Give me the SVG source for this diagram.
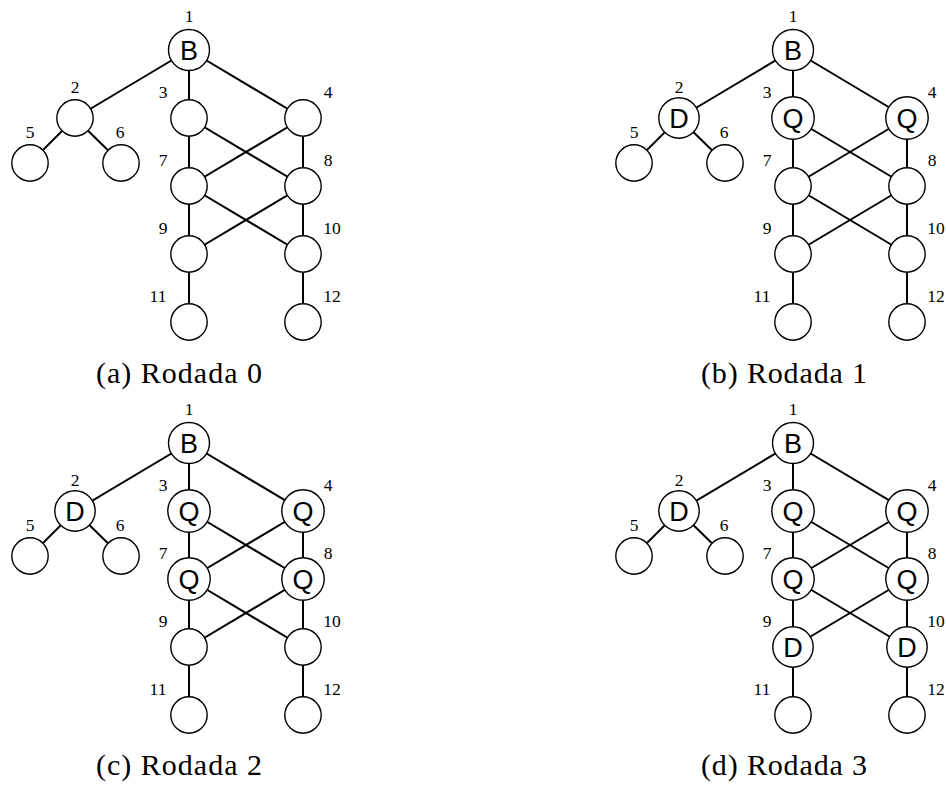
<svg xmlns="http://www.w3.org/2000/svg" width="946" height="785" viewBox="0 0 946 785">
<style>
.e line{stroke:#000;stroke-width:2;stroke-linecap:butt}
circle{fill:#fff;stroke:#000;stroke-width:1.4}
.l{font-family:"Liberation Serif","DejaVu Serif",serif;font-size:17.5px;fill:#000;text-anchor:middle}
.t{font-family:"Liberation Sans",Arial,sans-serif;font-size:27px;fill:#000;text-anchor:middle}
.c{font-family:"Liberation Serif","DejaVu Serif",serif;font-size:30px;fill:#000;text-anchor:middle}
</style>
<rect width="946" height="785" fill="#fff"/>

<!-- Panel a -->
<g id="panel-a">
<g class="e" id="edges-a">
<line x1="189" y1="50" x2="75" y2="118"/><line x1="189" y1="50" x2="189" y2="118"/><line x1="189" y1="50" x2="303" y2="118"/>
<line x1="75" y1="118" x2="30" y2="163"/><line x1="75" y1="118" x2="121" y2="163"/>
<line x1="189" y1="118" x2="189" y2="186"/><line x1="189" y1="118" x2="303" y2="186"/>
<line x1="303" y1="118" x2="189" y2="186"/><line x1="303" y1="118" x2="303" y2="186"/>
<line x1="189" y1="186" x2="189" y2="254"/><line x1="189" y1="186" x2="303" y2="254"/>
<line x1="303" y1="186" x2="189" y2="254"/><line x1="303" y1="186" x2="303" y2="254"/>
<line x1="189" y1="254" x2="189" y2="322"/><line x1="303" y1="254" x2="303" y2="322"/>
</g>
<g id="a-n1"><circle cx="189" cy="50" r="20.5"/><text class="t" x="189" y="59.8">B</text><text class="l" x="189" y="22">1</text></g>
<g id="a-n2"><circle cx="75" cy="118" r="18.2"/><text class="l" x="75" y="93">2</text></g>
<g id="a-n3"><circle cx="189" cy="118" r="18.2"/><text class="l" x="163" y="98">3</text></g>
<g id="a-n4"><circle cx="303" cy="118" r="18.2"/><text class="l" x="328" y="98">4</text></g>
<g id="a-n5"><circle cx="30" cy="163" r="18.2"/><text class="l" x="30" y="138">5</text></g>
<g id="a-n6"><circle cx="121" cy="163" r="18.2"/><text class="l" x="120" y="138">6</text></g>
<g id="a-n7"><circle cx="189" cy="186" r="18.2"/><text class="l" x="163" y="166">7</text></g>
<g id="a-n8"><circle cx="303" cy="186" r="18.2"/><text class="l" x="328" y="166">8</text></g>
<g id="a-n9"><circle cx="189" cy="254" r="18.2"/><text class="l" x="163" y="234">9</text></g>
<g id="a-n10"><circle cx="303" cy="254" r="18.2"/><text class="l" x="332" y="234">10</text></g>
<g id="a-n11"><circle cx="189" cy="322" r="18.2"/><text class="l" x="158" y="302">11</text></g>
<g id="a-n12"><circle cx="303" cy="322" r="18.2"/><text class="l" x="332" y="302">12</text></g>
<text class="c" x="179" y="383" textLength="166" lengthAdjust="spacing">(a) Rodada 0</text>
</g>

<!-- Panel b -->
<g id="panel-b" transform="translate(604,0)">
<g class="e" id="edges-b">
<line x1="189" y1="50" x2="75" y2="118"/><line x1="189" y1="50" x2="189" y2="118"/><line x1="189" y1="50" x2="303" y2="118"/>
<line x1="75" y1="118" x2="30" y2="163"/><line x1="75" y1="118" x2="121" y2="163"/>
<line x1="189" y1="118" x2="189" y2="186"/><line x1="189" y1="118" x2="303" y2="186"/>
<line x1="303" y1="118" x2="189" y2="186"/><line x1="303" y1="118" x2="303" y2="186"/>
<line x1="189" y1="186" x2="189" y2="254"/><line x1="189" y1="186" x2="303" y2="254"/>
<line x1="303" y1="186" x2="189" y2="254"/><line x1="303" y1="186" x2="303" y2="254"/>
<line x1="189" y1="254" x2="189" y2="322"/><line x1="303" y1="254" x2="303" y2="322"/>
</g>
<g id="b-n1"><circle cx="189" cy="50" r="20.5"/><text class="t" x="189" y="59.8">B</text><text class="l" x="189" y="22">1</text></g>
<g id="b-n2"><circle cx="75" cy="118" r="20.2"/><text class="t" x="75" y="127.8">D</text><text class="l" x="75" y="93">2</text></g>
<g id="b-n3"><circle cx="189" cy="118" r="21.2"/><text class="t" x="189" y="127.8">Q</text><text class="l" x="163" y="98">3</text></g>
<g id="b-n4"><circle cx="303" cy="118" r="21.2"/><text class="t" x="303" y="127.8">Q</text><text class="l" x="328" y="98">4</text></g>
<g id="b-n5"><circle cx="30" cy="163" r="18.2"/><text class="l" x="30" y="138">5</text></g>
<g id="b-n6"><circle cx="121" cy="163" r="18.2"/><text class="l" x="120" y="138">6</text></g>
<g id="b-n7"><circle cx="189" cy="186" r="18.2"/><text class="l" x="163" y="166">7</text></g>
<g id="b-n8"><circle cx="303" cy="186" r="18.2"/><text class="l" x="328" y="166">8</text></g>
<g id="b-n9"><circle cx="189" cy="254" r="18.2"/><text class="l" x="163" y="234">9</text></g>
<g id="b-n10"><circle cx="303" cy="254" r="18.2"/><text class="l" x="332" y="234">10</text></g>
<g id="b-n11"><circle cx="189" cy="322" r="18.2"/><text class="l" x="158" y="302">11</text></g>
<g id="b-n12"><circle cx="303" cy="322" r="18.2"/><text class="l" x="332" y="302">12</text></g>
<text class="c" x="180" y="383" textLength="166" lengthAdjust="spacing">(b) Rodada 1</text>
</g>

<!-- Panel c -->
<g id="panel-c" transform="translate(0,393)">
<g class="e" id="edges-c">
<line x1="189" y1="50" x2="75" y2="118"/><line x1="189" y1="50" x2="189" y2="118"/><line x1="189" y1="50" x2="303" y2="118"/>
<line x1="75" y1="118" x2="30" y2="163"/><line x1="75" y1="118" x2="121" y2="163"/>
<line x1="189" y1="118" x2="189" y2="186"/><line x1="189" y1="118" x2="303" y2="186"/>
<line x1="303" y1="118" x2="189" y2="186"/><line x1="303" y1="118" x2="303" y2="186"/>
<line x1="189" y1="186" x2="189" y2="254"/><line x1="189" y1="186" x2="303" y2="254"/>
<line x1="303" y1="186" x2="189" y2="254"/><line x1="303" y1="186" x2="303" y2="254"/>
<line x1="189" y1="254" x2="189" y2="322"/><line x1="303" y1="254" x2="303" y2="322"/>
</g>
<g id="c-n1"><circle cx="189" cy="50" r="20.5"/><text class="t" x="189" y="59.8">B</text><text class="l" x="189" y="22">1</text></g>
<g id="c-n2"><circle cx="75" cy="118" r="20.2"/><text class="t" x="75" y="127.8">D</text><text class="l" x="75" y="93">2</text></g>
<g id="c-n3"><circle cx="189" cy="118" r="21.2"/><text class="t" x="189" y="127.8">Q</text><text class="l" x="163" y="98">3</text></g>
<g id="c-n4"><circle cx="303" cy="118" r="21.2"/><text class="t" x="303" y="127.8">Q</text><text class="l" x="328" y="98">4</text></g>
<g id="c-n5"><circle cx="30" cy="163" r="18.2"/><text class="l" x="30" y="138">5</text></g>
<g id="c-n6"><circle cx="121" cy="163" r="18.2"/><text class="l" x="120" y="138">6</text></g>
<g id="c-n7"><circle cx="189" cy="186" r="21.2"/><text class="t" x="189" y="195.8">Q</text><text class="l" x="163" y="166">7</text></g>
<g id="c-n8"><circle cx="303" cy="186" r="21.2"/><text class="t" x="303" y="195.8">Q</text><text class="l" x="328" y="166">8</text></g>
<g id="c-n9"><circle cx="189" cy="254" r="18.2"/><text class="l" x="163" y="234">9</text></g>
<g id="c-n10"><circle cx="303" cy="254" r="18.2"/><text class="l" x="332" y="234">10</text></g>
<g id="c-n11"><circle cx="189" cy="322" r="18.2"/><text class="l" x="158" y="302">11</text></g>
<g id="c-n12"><circle cx="303" cy="322" r="18.2"/><text class="l" x="332" y="302">12</text></g>
<text class="c" x="179" y="382" textLength="166" lengthAdjust="spacing">(c) Rodada 2</text>
</g>

<!-- Panel d -->
<g id="panel-d" transform="translate(604,393)">
<g class="e" id="edges-d">
<line x1="189" y1="50" x2="75" y2="118"/><line x1="189" y1="50" x2="189" y2="118"/><line x1="189" y1="50" x2="303" y2="118"/>
<line x1="75" y1="118" x2="30" y2="163"/><line x1="75" y1="118" x2="121" y2="163"/>
<line x1="189" y1="118" x2="189" y2="186"/><line x1="189" y1="118" x2="303" y2="186"/>
<line x1="303" y1="118" x2="189" y2="186"/><line x1="303" y1="118" x2="303" y2="186"/>
<line x1="189" y1="186" x2="189" y2="254"/><line x1="189" y1="186" x2="303" y2="254"/>
<line x1="303" y1="186" x2="189" y2="254"/><line x1="303" y1="186" x2="303" y2="254"/>
<line x1="189" y1="254" x2="189" y2="322"/><line x1="303" y1="254" x2="303" y2="322"/>
</g>
<g id="d-n1"><circle cx="189" cy="50" r="20.5"/><text class="t" x="189" y="59.8">B</text><text class="l" x="189" y="22">1</text></g>
<g id="d-n2"><circle cx="75" cy="118" r="20.2"/><text class="t" x="75" y="127.8">D</text><text class="l" x="75" y="93">2</text></g>
<g id="d-n3"><circle cx="189" cy="118" r="21.2"/><text class="t" x="189" y="127.8">Q</text><text class="l" x="163" y="98">3</text></g>
<g id="d-n4"><circle cx="303" cy="118" r="21.2"/><text class="t" x="303" y="127.8">Q</text><text class="l" x="328" y="98">4</text></g>
<g id="d-n5"><circle cx="30" cy="163" r="18.2"/><text class="l" x="30" y="138">5</text></g>
<g id="d-n6"><circle cx="121" cy="163" r="18.2"/><text class="l" x="120" y="138">6</text></g>
<g id="d-n7"><circle cx="189" cy="186" r="21.2"/><text class="t" x="189" y="195.8">Q</text><text class="l" x="163" y="166">7</text></g>
<g id="d-n8"><circle cx="303" cy="186" r="21.2"/><text class="t" x="303" y="195.8">Q</text><text class="l" x="328" y="166">8</text></g>
<g id="d-n9"><circle cx="189" cy="254" r="20.2"/><text class="t" x="189" y="263.8">D</text><text class="l" x="163" y="234">9</text></g>
<g id="d-n10"><circle cx="303" cy="254" r="20.2"/><text class="t" x="303" y="263.8">D</text><text class="l" x="332" y="234">10</text></g>
<g id="d-n11"><circle cx="189" cy="322" r="18.2"/><text class="l" x="158" y="302">11</text></g>
<g id="d-n12"><circle cx="303" cy="322" r="18.2"/><text class="l" x="332" y="302">12</text></g>
<text class="c" x="180" y="382" textLength="166" lengthAdjust="spacing">(d) Rodada 3</text>
</g>
</svg>
